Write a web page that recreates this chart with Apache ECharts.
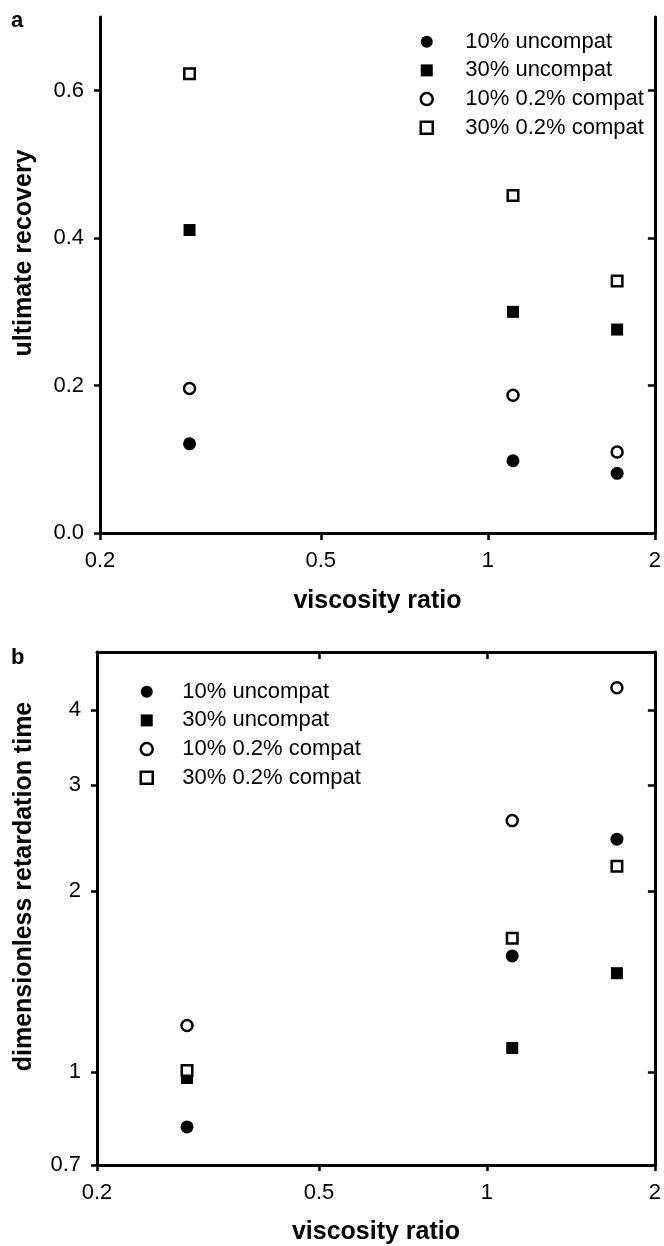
<!DOCTYPE html>
<html>
<head>
<meta charset="utf-8">
<title>viscosity ratio</title>
<script src="https://cdn.jsdelivr.net/npm/echarts@6/dist/echarts.min.js"></script>
<style>
  html, body { margin: 0; padding: 0; background: #fff; }
  #chart { width: 664px; height: 1246px; }
</style>
</head>
<body>
<div id="chart"></div>
<script>
// data
const seriesNames = ['10% uncompat', '30% uncompat', '10% 0.2% compat', '30% 0.2% compat'];
const viscosityRatio = [0.29, 1.11, 1.71];

// panel a - ultimate recovery
const recovery10Uncompat = [0.121, 0.098, 0.081];
const recovery30Uncompat = [0.411, 0.300, 0.276];
const recovery10Compat = [0.196, 0.187, 0.110];
const recovery30Compat = [0.623, 0.458, 0.342];

// panel b - dimensionless retardation time
const retard10Uncompat = [0.81, 1.56, 2.44];
const retard30Uncompat = [0.977, 1.096, 1.46];
const retard10Compat = [1.195, 2.62, 4.36];
const retard30Compat = [1.006, 1.67, 2.20];

// tick labels
const xTicks = [0.2, 0.5, 1, 2];
const yTicksA = [0, 0.2, 0.4, 0.6];
const yTicksB = [0.7, 1, 2, 3, 4];

const FONT = 'Liberation Sans, Arial, Helvetica, sans-serif';
const BLACK = '#000';

const filled = { color: BLACK, opacity: 1 };
const hollow = { color: '#fff', borderColor: BLACK, borderWidth: 2.5, opacity: 1 };
const markers = [
  { symbol: 'circle', symbolSize: 13, itemStyle: filled },
  { symbol: 'rect', symbolSize: 12, itemStyle: filled },
  { symbol: 'circle', symbolSize: 11, itemStyle: hollow },
  { symbol: 'rect', symbolSize: 10.5, itemStyle: hollow }
];

function pairs(ys) {
  return viscosityRatio.map(function (x, i) { return [x, ys[i]]; });
}

function makeSeries(grid, lists) {
  return lists.map(function (ys, i) {
    return Object.assign({
      name: seriesNames[i],
      type: 'scatter',
      xAxisIndex: grid * 2,
      yAxisIndex: grid * 2,
      data: pairs(ys)
    }, markers[i]);
  });
}

function bottomAxis(grid) {
  return {
    type: 'log', gridIndex: grid, position: 'bottom', min: 0.2, max: 2,
    name: 'viscosity ratio', nameLocation: 'middle', nameGap: grid === 0 ? 56 : 55,
    nameTextStyle: { fontFamily: FONT, fontSize: 25, fontWeight: 'bold', color: BLACK },
    axisLine: { lineStyle: { color: BLACK, width: 3 } },
    axisTick: { inside: false, length: 6, lineStyle: { color: BLACK, width: 2.5 }, customValues: xTicks },
    axisLabel: { customValues: xTicks, margin: 17, fontFamily: FONT, fontSize: 22, color: BLACK,
      formatter: function (v) { return String(v); } },
    splitLine: { show: false }
  };
}

function topAxis(grid) {
  return {
    type: 'log', gridIndex: grid, position: 'top', min: 0.2, max: 2,
    axisLine: { lineStyle: { color: BLACK, width: 3 } },
    axisTick: { inside: true, length: 7, lineStyle: { color: BLACK, width: 2.5 }, customValues: xTicks },
    axisLabel: { show: false },
    splitLine: { show: false }
  };
}

function leftAxis(grid) {
  const isA = grid === 0;
  const ticks = isA ? yTicksA : yTicksB;
  return {
    type: isA ? 'value' : 'log', gridIndex: grid, position: 'left',
    min: isA ? 0 : 0.7, max: isA ? 0.7 : 5,
    name: isA ? 'ultimate recovery' : 'dimensionless retardation time',
    nameLocation: 'middle', nameGap: isA ? 63 : 60,
    nameTextStyle: { fontFamily: FONT, fontSize: 25, fontWeight: 'bold', color: BLACK, padding: [0, 0, 0, 44] },
    axisLine: { lineStyle: { color: BLACK, width: 3 } },
    axisTick: { inside: false, length: 6, lineStyle: { color: BLACK, width: 2.5 }, customValues: ticks },
    axisLabel: { customValues: ticks, margin: 16, fontFamily: FONT, fontSize: 22, color: BLACK,
      formatter: function (v) { return isA ? Number(v).toFixed(1) : String(v); } },
    splitLine: { show: false }
  };
}

function rightAxis(grid) {
  const isA = grid === 0;
  const ticks = isA ? yTicksA : yTicksB;
  return {
    type: isA ? 'value' : 'log', gridIndex: grid, position: 'right',
    min: isA ? 0 : 0.7, max: isA ? 0.7 : 5,
    axisLine: { lineStyle: { color: BLACK, width: 3 } },
    axisTick: { inside: true, length: 7, lineStyle: { color: BLACK, width: 2.5 }, customValues: ticks },
    axisLabel: { show: false },
    splitLine: { show: false }
  };
}

function legend(left, top, gap) {
  return {
    orient: 'vertical', left: left, top: top, padding: 0,
    itemWidth: 12, itemHeight: 12, itemGap: 6.7,
    selectedMode: false,
    data: seriesNames.map(function (name, i) {
      return { name: name, icon: markers[i].symbol, itemStyle: markers[i].itemStyle };
    }),
    textStyle: { fontFamily: FONT, fontSize: 22, lineHeight: 22, color: BLACK, padding: [0, 0, 0, gap] }
  };
}

const chart = echarts.init(document.getElementById('chart'), null, { renderer: 'canvas' });

var option = {
  animation: false,
  backgroundColor: '#fff',
  title: [
    { text: 'a', left: 11, top: 9.5, padding: 0, textStyle: { fontFamily: FONT, fontSize: 22, fontWeight: 'bold', color: BLACK } },
    { text: 'b', left: 11, top: 646.5, padding: 0, textStyle: { fontFamily: FONT, fontSize: 22, fontWeight: 'bold', color: BLACK } }
  ],
  grid: [
    { left: 100, top: 17, width: 558, height: 516 },
    { left: 97, top: 652, width: 558, height: 515 }
  ],
  legend: [legend(419.5, 30.7, 27.5), legend(139.5, 680.7, 24.5)],
  xAxis: [bottomAxis(0), topAxis(0), bottomAxis(1), topAxis(1)],
  yAxis: [leftAxis(0), rightAxis(0), leftAxis(1), rightAxis(1)],
  series: makeSeries(0, [recovery10Uncompat, recovery30Uncompat, recovery10Compat, recovery30Compat])
    .concat(makeSeries(1, [retard10Uncompat, retard30Uncompat, retard10Compat, retard30Compat]))
};

chart.setOption(option);
</script>
</body>
</html>
